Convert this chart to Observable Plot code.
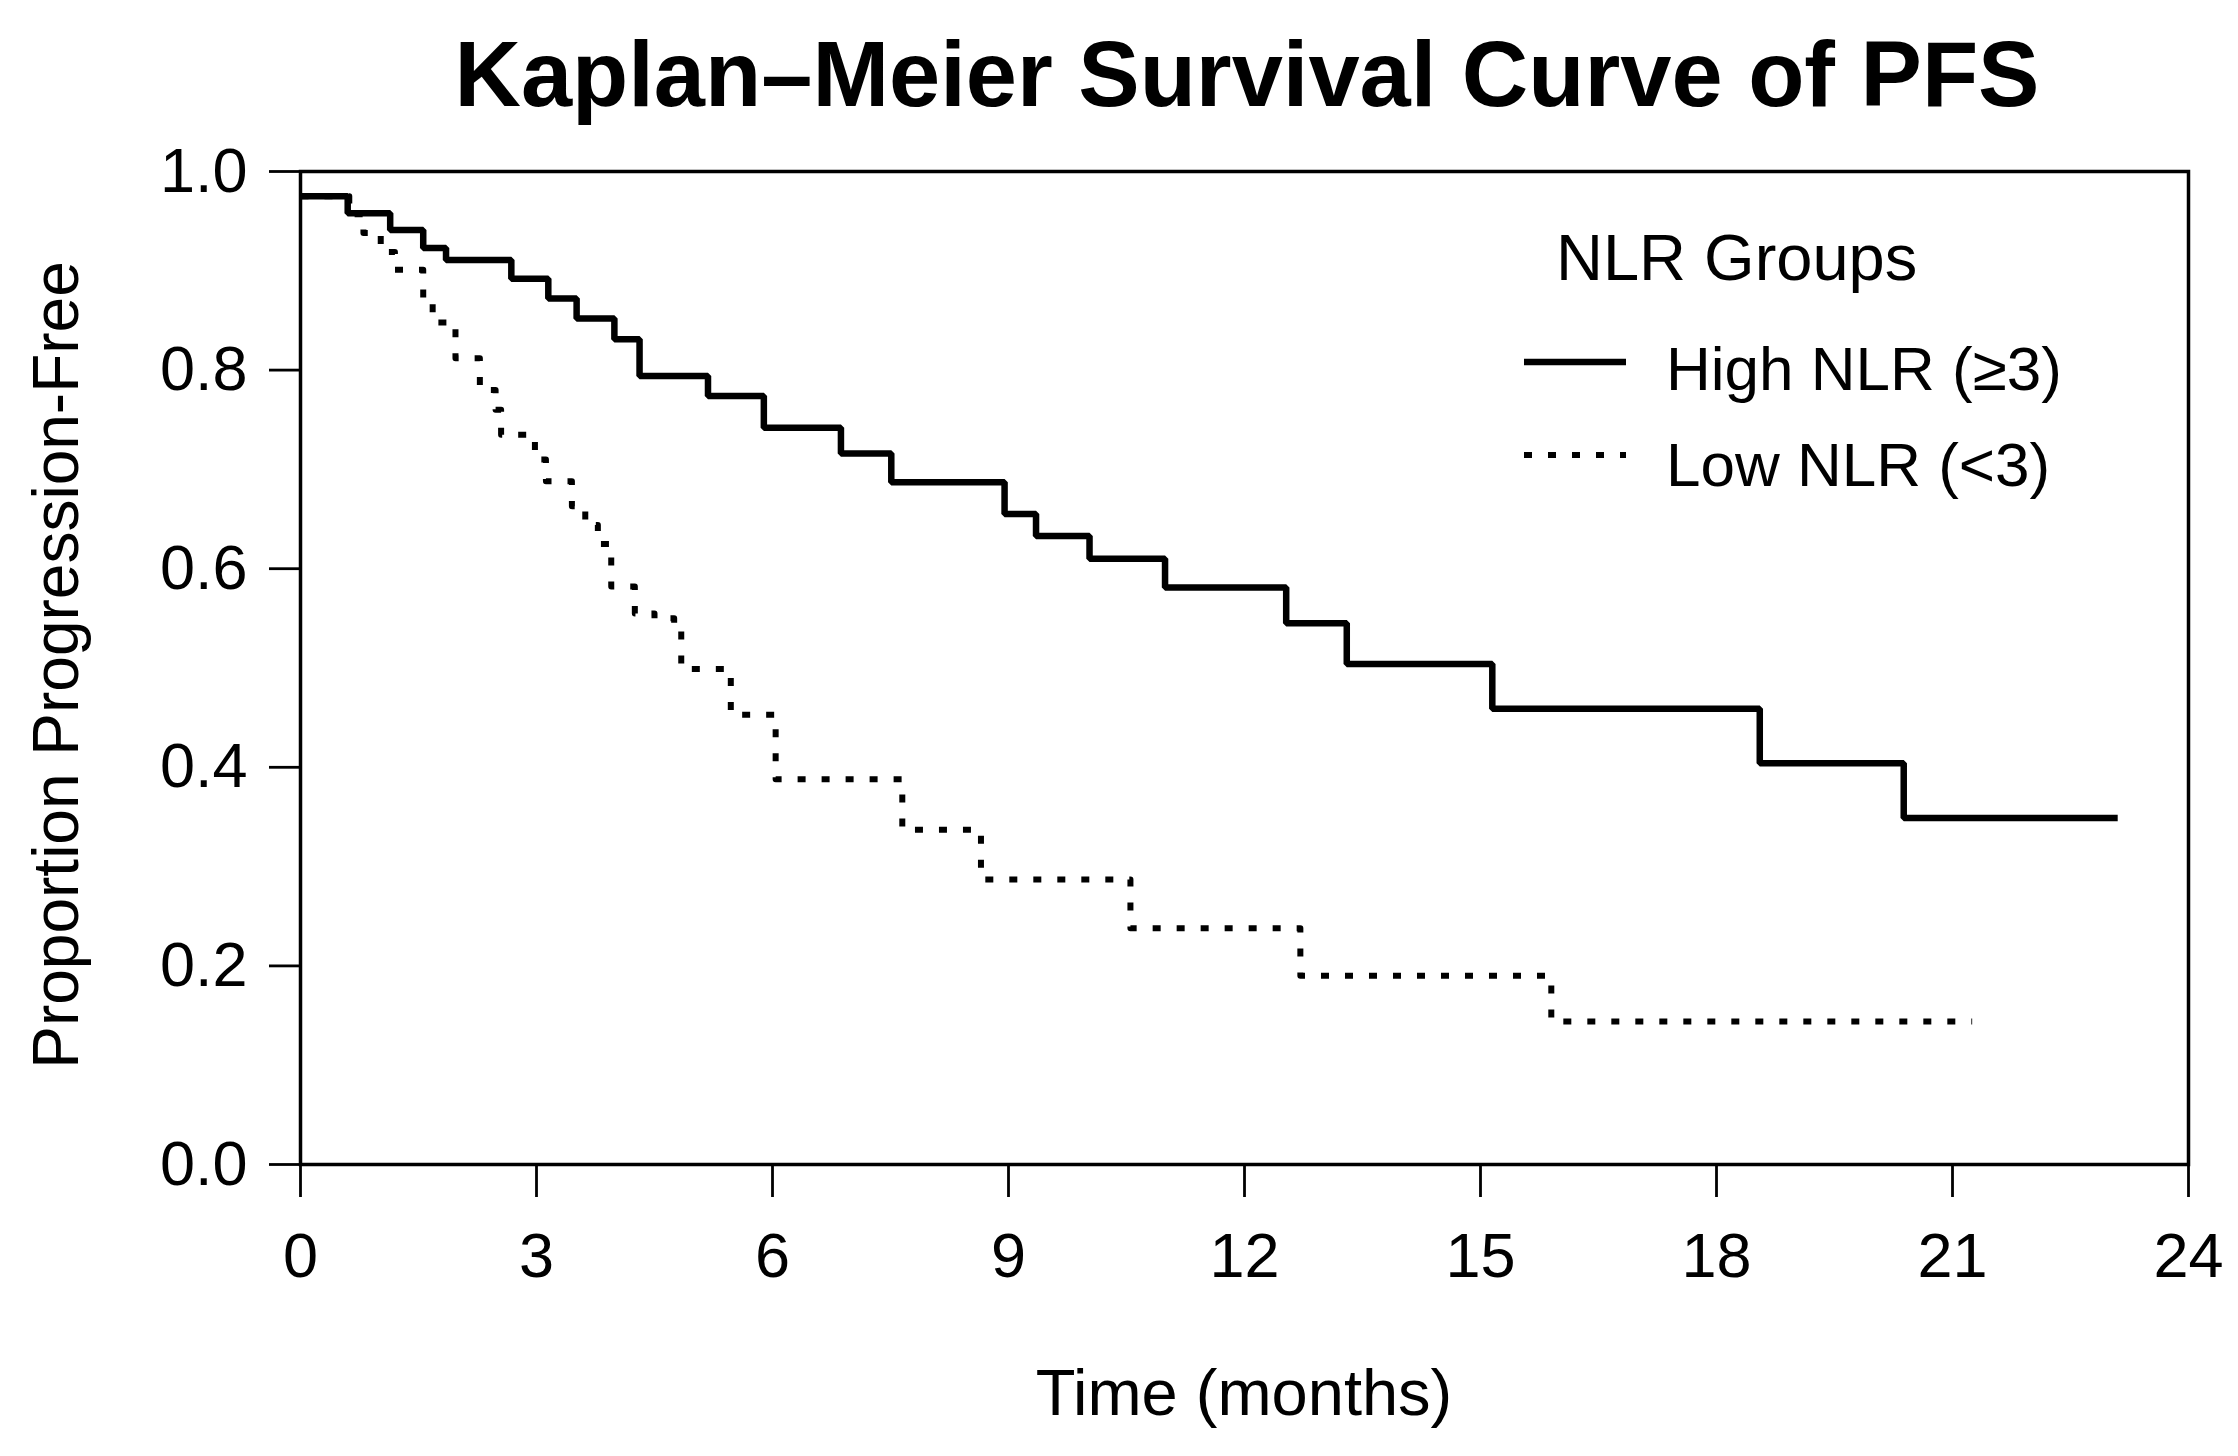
<!DOCTYPE html>
<html>
<head>
<meta charset="utf-8">
<script src="https://cdn.jsdelivr.net/npm/d3@7"></script>
<script src="https://cdn.jsdelivr.net/npm/@observablehq/plot@0.6"></script>
<style>
html, body { margin: 0; padding: 0; background: #fff; }
#wrap { position: relative; width: 2238px; height: 1456px; }
#overlay { position: absolute; left: 0; top: 0; pointer-events: none; }
#overlay text { font-family: "Liberation Sans", Arial, Helvetica, sans-serif; fill: #000; }
</style>
</head>
<body>
<div id="wrap">
  <div id="chart"></div>
  <svg id="overlay" width="2238" height="1456" xmlns="http://www.w3.org/2000/svg"></svg>
</div>
<script>
// ---- Data ----
const chartTitle = "Kaplan–Meier Survival Curve of PFS";
const xLabel = "Time (months)";
const yLabel = "Proportion Progression-Free";
const legendTitle = "NLR Groups";
const groupLabels = ["High NLR (≥3)", "Low NLR (<3)"];

const xTicks = [0, 3, 6, 9, 12, 15, 18, 21, 24];
const yTicks = [0, 0.2, 0.4, 0.6, 0.8, 1.0];

// High NLR (>=3)
const highTimes = [0, 0.60, 1.14, 1.56, 1.85, 2.68, 3.15, 3.51, 3.99, 4.31, 5.18, 5.89, 6.87, 7.51, 8.95, 9.35, 10.03, 10.99, 12.53, 13.30, 15.15, 18.55, 20.38, 23.10];
const highSurv  = [0.975, 0.958, 0.941, 0.923, 0.911, 0.892, 0.872, 0.852, 0.831, 0.794, 0.774, 0.742, 0.716, 0.687, 0.655, 0.633, 0.610, 0.581, 0.545, 0.504, 0.459, 0.404, 0.349, 0.349];

// Low NLR (<3)
const lowTimes = [0, 0.62, 0.80, 1.02, 1.20, 1.56, 1.68, 1.97, 2.28, 2.48, 2.55, 2.98, 3.12, 3.45, 3.62, 3.78, 3.95, 4.25, 4.50, 4.75, 4.84, 5.47, 6.04, 7.65, 8.65, 10.55, 12.71, 15.90, 21.25];
const lowSurv  = [0.975, 0.957, 0.938, 0.919, 0.901, 0.873, 0.848, 0.812, 0.780, 0.760, 0.735, 0.710, 0.688, 0.663, 0.644, 0.625, 0.582, 0.555, 0.550, 0.545, 0.499, 0.453, 0.388, 0.337, 0.287, 0.238, 0.190, 0.144, 0.144];

// ---- Layout ----
const W = 2238, H = 1456;
const FONT = "'Liberation Sans', Arial, Helvetica, sans-serif";

const highData = highTimes.map((t, i) => ({t, s: highSurv[i]}));
const lowData = lowTimes.map((t, i) => ({t, s: lowSurv[i]}));

const lineStyles = [
  {strokeWidth: 6.5, strokeDasharray: null},
  {strokeWidth: 6, strokeDasharray: "8,16"}
];

const chart = Plot.plot({
  width: W,
  height: H,
  marginLeft: 300,
  marginRight: 50,
  marginTop: 171,
  marginBottom: 292,
  style: {background: "white", color: "black", fontFamily: FONT},
  x: {domain: [0, 24]},
  y: {domain: [0, 1]},
  marks: [
    Plot.axisX({ticks: xTicks, tickSize: 33, tickPadding: 35, fontSize: 63, strokeWidth: 2.8, label: null}),
    Plot.axisY({ticks: yTicks, tickSize: 31, tickPadding: 22, fontSize: 63, strokeWidth: 2.8, tickFormat: d3.format(".1f"), label: null}),
    Plot.line(lowData, {x: "t", y: "s", curve: "step-after", stroke: "black",
      strokeWidth: lineStyles[1].strokeWidth, strokeDasharray: lineStyles[1].strokeDasharray, strokeLinecap: "butt"}),
    Plot.line(highData, {x: "t", y: "s", curve: "step-after", stroke: "black",
      strokeWidth: lineStyles[0].strokeWidth, strokeLinejoin: "miter", strokeLinecap: "butt"}),
    Plot.frame({stroke: "black", strokeWidth: 3.5})
  ]
});
document.getElementById("chart").appendChild(chart);

// ---- Title, axis titles and legend ----
const ov = d3.select("#overlay");
ov.append("text")
  .attr("x", 1247).attr("y", 106)
  .attr("text-anchor", "middle")
  .attr("font-size", 92).attr("font-weight", "bold")
  .text(chartTitle);
ov.append("text")
  .attr("x", 1244).attr("y", 1415)
  .attr("text-anchor", "middle")
  .attr("font-size", 65)
  .text(xLabel);
ov.append("text")
  .attr("transform", "translate(78,665) rotate(-90)")
  .attr("text-anchor", "middle")
  .attr("font-size", 64)
  .text(yLabel);

const lg = ov.append("g");
lg.append("text").attr("x", 1556).attr("y", 280).attr("font-size", 65).text(legendTitle);
const rowY = [362, 455];
const textY = [390, 486];
groupLabels.forEach((label, i) => {
  lg.append("line")
    .attr("x1", 1524).attr("x2", 1626)
    .attr("y1", rowY[i]).attr("y2", rowY[i])
    .attr("stroke", "black")
    .attr("stroke-width", lineStyles[i].strokeWidth)
    .attr("stroke-dasharray", lineStyles[i].strokeDasharray);
  lg.append("text").attr("x", 1666).attr("y", textY[i]).attr("font-size", 62).text(label);
});
</script>
</body>
</html>
